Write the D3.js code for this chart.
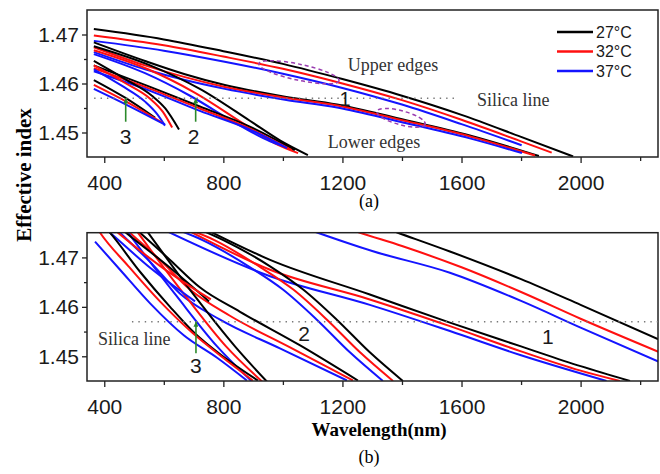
<!DOCTYPE html>
<html>
<head>
<meta charset="utf-8">
<script src="https://cdn.jsdelivr.net/npm/d3@7"></script>
<style>
body{margin:0;background:#fff}
svg{display:block}
</style>
</head>
<body>
<svg width="660" height="474"></svg>
<script>
// legend / series names
var temps = ["27\u00B0C", "32\u00B0C", "37\u00B0C"];
var xTicks = [400, 800, 1200, 1600, 2000];
var xMinor = [600, 1000, 1400, 1800, 2200];
var yTicks = [1.45, 1.46, 1.47];
var yMinor = [1.455, 1.465];
var silica = 1.457;

// every edge = one curve per temperature (27, 32, 37), points [wavelength nm, effective index]
// (a)
var aUpper1 = [
	[[365,1.4711],[600,1.4690],[800,1.4666],[1000,1.4640],[1200,1.4609],[1400,1.4575],[1600,1.4536],[1800,1.4491],[1975,1.4451]],
	[[365,1.4698],[600,1.4678],[800,1.4655],[1000,1.4630],[1200,1.4600],[1400,1.4566],[1600,1.4526],[1800,1.4482],[1903,1.4459]],
	[[365,1.4687],[600,1.4667],[800,1.4645],[1000,1.4620],[1200,1.4591],[1400,1.4557],[1600,1.4517],[1802,1.4474]]
];
var aLower1 = [
	[[365,1.4684],[537,1.4646],[671,1.4619],[805,1.4597],[1007,1.4573],[1182,1.4557],[1393,1.4528],[1628,1.4494],[1860,1.4452]],
	[[365,1.4674],[537,1.4637],[671,1.4613],[805,1.4593],[1007,1.4571],[1182,1.4555],[1393,1.4526],[1628,1.4492],[1847,1.4453]],
	[[365,1.4664],[537,1.4629],[671,1.4607],[805,1.4589],[1007,1.4567],[1182,1.4551],[1393,1.4522],[1628,1.4488],[1803,1.4458]]
];
var aUpper2 = [
	[[365,1.4676],[554,1.4637],[721,1.4589],[889,1.4524],[990,1.4484],[1084,1.4454]],
	[[365,1.4668],[547,1.4629],[705,1.4581],[873,1.4516],[973,1.4478],[1051,1.4458]],
	[[365,1.4660],[537,1.4621],[688,1.4575],[856,1.4514],[957,1.4482],[1014,1.4470]]
];
var aLower2 = [
	[[365,1.4637],[554,1.4593],[721,1.4553],[889,1.4512],[1040,1.4464]],
	[[365,1.4631],[554,1.4589],[721,1.4549],[889,1.4508],[1030,1.4464]],
	[[365,1.4625],[554,1.4585],[721,1.4544],[889,1.4506],[1014,1.4468]]
];
var aUpper3 = [
	[[365,1.4646],[470,1.4609],[560,1.4575],[605,1.4549],[651,1.4506]],
	[[365,1.4637],[470,1.4601],[554,1.4569],[597,1.4542],[628,1.4510]],
	[[365,1.4629],[460,1.4595],[537,1.4563],[577,1.4538],[604,1.4514]]
];
var aLower3 = [
	[[365,1.4607],[470,1.4571],[571,1.4530]],
	[[365,1.4597],[480,1.4561],[594,1.4520]],
	[[365,1.4589],[480,1.4555],[604,1.4516]]
];

// (b)
var bUpper1 = [
	[[1340,1.4760],[1386,1.4750],[1561,1.4712],[1800,1.4656],[2000,1.4604],[2270,1.4532]],
	[[1210,1.4760],[1259,1.4750],[1400,1.4723],[1600,1.4680],[1800,1.4630],[2000,1.4576],[2270,1.4507]],
	[[1070,1.4760],[1117,1.4750],[1300,1.4713],[1561,1.4669],[1800,1.4612],[2000,1.4558],[2270,1.4487]]
];
var bLower1 = [
	[[740,1.4757],[957,1.4695],[1292,1.4625],[1561,1.4568],[1800,1.4520],[2000,1.4480],[2166,1.4450]],
	[[680,1.4755],[957,1.4675],[1292,1.4615],[1561,1.4561],[1800,1.4510],[2000,1.4471],[2132,1.4450]],
	[[600,1.4756],[957,1.4662],[1292,1.4604],[1561,1.4551],[1800,1.4502],[2087,1.4450]]
];
var bUpper2 = [
	[[700,1.4762],[800,1.4735],[957,1.4682],[1068,1.4635],[1181,1.4574],[1292,1.4508],[1403,1.4450]],
	[[660,1.4762],[770,1.4735],[925,1.4680],[1035,1.4635],[1148,1.4574],[1259,1.4508],[1370,1.4450]],
	[[620,1.4762],[730,1.4735],[890,1.4680],[1000,1.4635],[1114,1.4574],[1225,1.4508],[1336,1.4450]]
];
var bLower2 = [
	[[500,1.4761],[520,1.4750],[621,1.4695],[722,1.4639],[856,1.4590],[1058,1.4522],[1252,1.4451]],
	[[466,1.4761],[486,1.4750],[587,1.4695],[688,1.4635],[822,1.4582],[1024,1.4518],[1235,1.4451]],
	[[433,1.4762],[453,1.4750],[554,1.4691],[654,1.4627],[789,1.4574],[990,1.4516],[1215,1.4451]]
];
var bUpper3 = [
	[[530,1.4764],[547,1.4750],[705,1.4621],[839,1.4520],[946,1.4449]],
	[[496,1.4764],[513,1.4750],[674,1.4621],[809,1.4520],[930,1.4449]],
	[[463,1.4764],[480,1.4750],[644,1.4621],[779,1.4520],[896,1.4449]]
];
var bLower3 = [
	[[400,1.4763],[419,1.4750],[520,1.4671],[621,1.4600],[705,1.4546],[805,1.4497],[916,1.4451]],
	[[375,1.4760],[386,1.4750],[480,1.4683],[587,1.4611],[695,1.4548],[795,1.4499],[899,1.4451]],
	[[369,1.4732],[453,1.4675],[554,1.4607],[668,1.4542],[779,1.4497],[879,1.4451]]
];
var bShort3 = [
	[[453,1.4760],[473,1.4750],[621,1.4679],[752,1.4611]],
	[[426,1.4760],[446,1.4750],[587,1.4683],[758,1.4615]],
	[[399,1.4760],[419,1.4750],[554,1.4679],[705,1.4611]]
];

var colors = ["#000000", "#ff1010", "#1414ff"];
var svg = d3.select("svg");
var left = 87, right = 658;
var x = d3.scaleLinear().domain([342, 2260]).range([left, right]);

var defs = svg.append("defs");
defs.append("marker")
	.attr("id", "arr")
	.attr("viewBox", "0 0 10 10")
	.attr("refX", 10).attr("refY", 5)
	.attr("markerUnits", "userSpaceOnUse")
	.attr("markerWidth", 8).attr("markerHeight", 5)
	.attr("orient", "auto")
	.append("path").attr("d", "M0,0L10,5L0,10z").attr("fill", "#2b8a2b");

function panel(id, top, bottom, edges){
	var y = d3.scaleLinear().domain([1.445, 1.475]).range([bottom, top]);
	var g = svg.append("g");

	defs.append("clipPath").attr("id", "clip" + id)
		.append("rect").attr("x", left).attr("y", top).attr("width", right - left).attr("height", bottom - top);

	var line = d3.line()
		.x(function(d){return x(d[0]);})
		.y(function(d){return y(d[1]);})
		.curve(d3.curveMonotoneX);

	var curves = g.append("g").attr("clip-path", "url(#clip" + id + ")");
	edges.forEach(function(edge){
		edge.forEach(function(pts, i){
			curves.append("path")
				.attr("d", line(pts))
				.attr("fill", "none")
				.attr("stroke", colors[i])
				.attr("stroke-width", 2);
		});
	});

	g.append("g").attr("class", "axis").attr("transform", "translate(0," + bottom + ")")
		.call(d3.axisBottom(x).tickValues(xTicks).tickSize(6).tickPadding(12).tickFormat(d3.format("d")));
	g.append("g").attr("transform", "translate(0," + bottom + ")")
		.call(d3.axisBottom(x).tickValues(xMinor).tickSize(4).tickFormat(""));
	g.append("g").attr("class", "axis").attr("transform", "translate(" + left + ",0)")
		.call(d3.axisLeft(y).tickValues(yTicks).tickSize(5).tickPadding(3).tickFormat(d3.format(".2f")));
	g.append("g").attr("transform", "translate(" + left + ",0)")
		.call(d3.axisLeft(y).tickValues(yMinor).tickSize(3).tickFormat(""));

	g.selectAll(".domain").remove();
	g.selectAll(".tick line").attr("stroke", "#222").attr("stroke-width", 1.3);
	g.selectAll(".axis text").attr("font-family", "Liberation Sans, Arial, sans-serif")
		.attr("font-size", 21).attr("fill", "#1a1a1a");

	g.append("rect")
		.attr("x", left).attr("y", top)
		.attr("width", right - left).attr("height", bottom - top)
		.attr("fill", "none").attr("stroke", "#222").attr("stroke-width", 1.5);

	return {g: g, y: y};
}

var pa = panel("a", 10, 157, [aUpper1, aLower1, aUpper2, aLower2, aUpper3, aLower3]);
var pb = panel("b", 232.7, 381, [bUpper1, bLower1, bUpper2, bLower2, bUpper3, bShort3, bLower3]);

function silicaLine(p, x0, x1){
	p.g.append("line")
		.attr("x1", x(x0)).attr("x2", x(x1))
		.attr("y1", p.y(silica)).attr("y2", p.y(silica))
		.attr("stroke", "#777").attr("stroke-width", 1.4)
		.attr("stroke-dasharray", "1.4,5");
}
silicaLine(pa, 366, 1584);
silicaLine(pb, 493, 2260);

function arrow(p, wl, n0){
	p.g.append("line")
		.attr("x1", x(wl)).attr("x2", x(wl))
		.attr("y1", p.y(n0)).attr("y2", p.y(silica))
		.attr("stroke", "#2b8a2b").attr("stroke-width", 1.6)
		.attr("marker-end", "url(#arr)");
}
arrow(pa, 472, 1.4522);
arrow(pa, 707, 1.4522);
arrow(pb, 708, 1.4506);

function label(p, wl, n, txt, opts){
	return p.g.append("text")
		.attr("x", x(wl)).attr("y", p.y(n))
		.attr("text-anchor", opts.anchor || "middle")
		.attr("font-family", opts.serif ? "Liberation Serif, Times New Roman, serif" : "Liberation Sans, Arial, sans-serif")
		.attr("font-size", opts.size)
		.attr("fill", opts.fill || "#1a1a1a")
		.text(txt);
}
label(pa, 472, 1.4476, "3", {size: 21});
label(pa, 700, 1.4476, "2", {size: 21});
label(pa, 1209, 1.4555, "1", {size: 20});
label(pb, 708, 1.4467, "3", {size: 21});
label(pb, 1071, 1.4530, "2", {size: 21});
label(pb, 1890, 1.4524, "1", {size: 21});

label(pa, 1218, 1.4625, "Upper edges", {size: 18, serif: true, anchor: "start", fill: "#333"});
label(pa, 1151, 1.4468, "Lower edges", {size: 18, serif: true, anchor: "start", fill: "#333"});
label(pa, 1652, 1.4555, "Silica line", {size: 18, serif: true, anchor: "start", fill: "#333"});
label(pb, 379, 1.4522, "Silica line", {size: 18, serif: true, anchor: "start", fill: "#333"});

// dashed ellipses marking the edges
function ellipse(p, wl, n, rx, ry, rot){
	p.g.append("ellipse")
		.attr("transform", "translate(" + x(wl) + "," + p.y(n) + ") rotate(" + rot + ")")
		.attr("rx", rx).attr("ry", ry)
		.attr("fill", "none").attr("stroke", "#9a3cb0")
		.attr("stroke-width", 1.5).attr("stroke-dasharray", "4,3");
}
ellipse(pa, 1054, 1.4623, 41, 8, 12);
ellipse(pa, 1397, 1.4530, 25, 7, 15);

// legend
var legend = pa.g.append("g").attr("transform", "translate(557,32)");
temps.forEach(function(t, i){
	var row = legend.append("g").attr("transform", "translate(0," + (i * 19.5) + ")");
	row.append("line").attr("x1", 0).attr("x2", 36).attr("stroke", colors[i]).attr("stroke-width", 2.5);
	row.append("text").attr("x", 39).attr("y", 5.5)
		.attr("font-family", "Liberation Sans, Arial, sans-serif").attr("font-size", 16)
		.attr("fill", "#1a1a1a").text(t);
});

svg.append("text")
	.attr("transform", "translate(31,175) rotate(-90)")
	.attr("text-anchor", "middle")
	.attr("font-family", "Liberation Serif, Times New Roman, serif")
	.attr("font-weight", "bold").attr("font-size", 21)
	.text("Effective index");

svg.append("text")
	.attr("x", 379).attr("y", 436)
	.attr("text-anchor", "middle")
	.attr("font-family", "Liberation Serif, Times New Roman, serif")
	.attr("font-weight", "bold").attr("font-size", 19)
	.text("Wavelength(nm)");

svg.append("text").attr("x", 369).attr("y", 207).attr("text-anchor", "middle")
	.attr("font-family", "Liberation Serif, Times New Roman, serif").attr("font-size", 18).text("(a)");
svg.append("text").attr("x", 369).attr("y", 463).attr("text-anchor", "middle")
	.attr("font-family", "Liberation Serif, Times New Roman, serif").attr("font-size", 18).text("(b)");
</script>
</body>
</html>
